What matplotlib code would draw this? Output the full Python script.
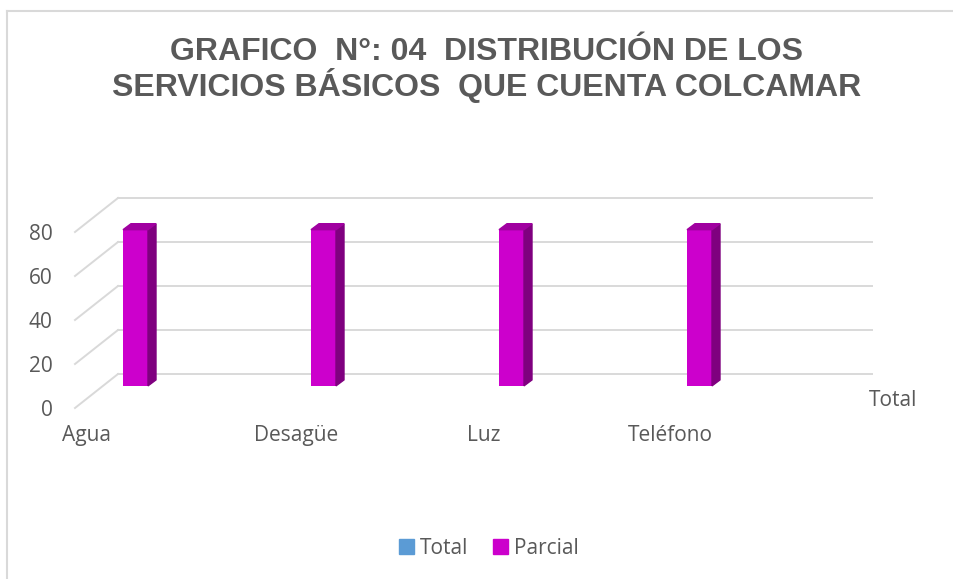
import matplotlib.pyplot as plt
from matplotlib.patches import Polygon, Patch
from matplotlib.lines import Line2D

categories = ["Agua", "Desagüe", "Luz", "Teléfono"]
total = [0, 0, 0, 0]
parcial = [71, 71, 71, 71]
yticks = [0, 20, 40, 60, 80]

plt.rcParams['font.family'] = ['Open Sans', 'DejaVu Sans']

W, H = 954, 579
fig = plt.figure(figsize=(W / 100, H / 100), dpi=100)

# plot area (floor front-left corner at pixel 75,408)
px_x, px_y = 188.0, 2.2          # pixels per category / per value unit
ax = fig.add_axes([75 / W, 1 - 408 / H, 797 / W, 211 / H])
ax.set_xlim(0, 797 / px_x)
ax.set_ylim(0, 211 / px_y)
for s in ax.spines.values():
    s.set_visible(False)

# depth of the fake 3d box
DX, DY = 43 / px_x, 34 / px_y
grid_c = '#D9D9D9'
for v in yticks:
    ax.plot([0, DX], [v, v + DY], color=grid_c, lw=1.4, clip_on=False)
    ax.plot([DX, ax.get_xlim()[1]], [v + DY, v + DY], color=grid_c, lw=1.4, clip_on=False)

# bars sit part way into the box
depth = 0.65
base = depth * DY
bar_off = 48 / px_x
bw = 25 / px_x
sx, sy = 8 / px_x, 6 / px_y
for i, v in enumerate(parcial):
    if v <= 0:
        continue
    xl = i + bar_off
    xr = xl + bw
    ax.bar(xl, v, width=bw, bottom=base, align='edge', color='#CC00CC', zorder=3)
    ax.add_patch(Polygon([(xr, base), (xr + sx, base + sy), (xr + sx, base + v + sy), (xr, base + v)],
                         closed=True, color='#7F007F', zorder=3))
    ax.add_patch(Polygon([(xl, base + v), (xl + sx, base + v + sy), (xr + sx, base + v + sy), (xr, base + v)],
                         closed=True, color='#A000A0', zorder=3))

ax.set_yticks(yticks)
ax.set_yticklabels([str(t) for t in yticks])
label_pos = [(p - 75) / px_x for p in (87, 296, 484, 670)]
ax.set_xticks(label_pos)
ax.set_xticklabels(categories)
ax.tick_params(axis='y', length=0, pad=16, labelsize=15, labelcolor='#595959')
ax.tick_params(axis='x', length=0, pad=12, labelsize=15, labelcolor='#595959')

# series axis label
ax.text((893 - 75) / px_x, (408 - 400) / px_y, "Total", fontsize=15, color='#595959',
        ha='center', va='center', clip_on=False)

fig.text(487 / W, 1 - 70 / H, "GRAFICO  N°: 04  DISTRIBUCIÓN DE LOS\nSERVICIOS BÁSICOS  QUE CUENTA COLCAMAR",
         ha='center', va='center', fontsize=23, fontweight='bold', color='#595959',
         family='Liberation Sans', linespacing=1.03)

handles = [Patch(color='#5B9BD5', label='Total'), Patch(color='#CC00CC', label='Parcial')]
fig.legend(handles=handles, loc='center', bbox_to_anchor=(489 / W, 1 - 548 / H), ncol=2,
           frameon=False, fontsize=15, handlelength=0.7, handleheight=0.7,
           handletextpad=0.3, columnspacing=1.2, labelcolor='#595959')

# chart border (only top and left visible in the crop)
fig.add_artist(Line2D([7.5 / W, 1], [1 - 10.5 / H, 1 - 10.5 / H], color=grid_c, lw=1.5))
fig.add_artist(Line2D([7.5 / W, 7.5 / W], [0, 1 - 10.5 / H], color=grid_c, lw=1.5))

fig.savefig('out.png', dpi=100, facecolor='white')
